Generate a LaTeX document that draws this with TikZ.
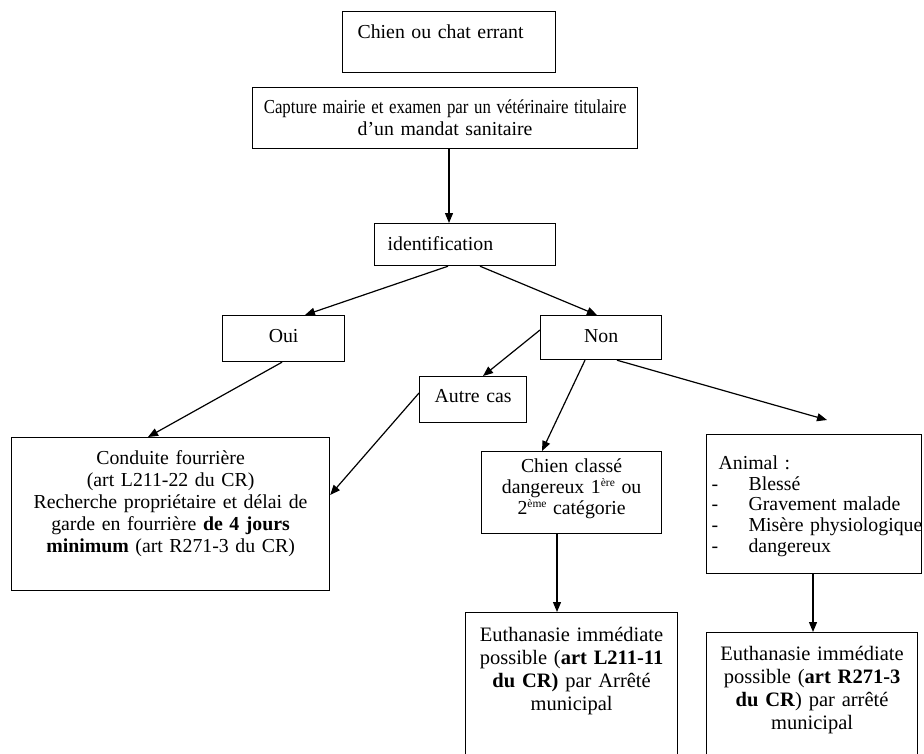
\documentclass[tikz,border=0pt]{standalone}
\usepackage{fontspec}
\usepackage{graphicx}
\setmainfont{Liberation Serif}
\usetikzlibrary{arrows.meta}
\newcommand{\supx}[1]{\raisebox{6.5pt}{\fontsize{11.5}{11.5}\selectfont #1}}
\begin{document}
\begin{tikzpicture}[x=1pt,y=-1pt,
  box/.style={draw, line width=1.2pt, inner ysep=0pt, anchor=north west,
    font=\fontsize{19.8}{22}\selectfont},
  conn/.style={line width=1.2pt, -{Triangle[length=10pt,width=8pt]}}]
\useasboundingbox (0,0) rectangle (924,753);
\clip (0,0) rectangle (924,753);

\node[box, inner xsep=15pt, text width=183pt, align=left, text height=27pt, text depth=34pt]
  (chien) at (342,11) {Chien ou chat errant};
\node[box, inner xsep=5pt, text width=375pt, align=center, text height=26pt, text depth=35pt]
  (capt) at (252,87) {\scalebox{0.85}[1]{Capture mairie et examen par un vétérinaire titulaire}\\d’un mandat sanitaire};
\node[box, inner xsep=13pt, text width=155pt, align=left, text height=27pt, text depth=15pt]
  (ident) at (374,223) {identification};
\node[box, inner xsep=5pt, text width=112pt, align=center, text height=27pt, text depth=19pt]
  (oui) at (222,315) {Oui};
\node[box, inner xsep=5pt, text width=111pt, align=center, text height=27pt, text depth=17pt]
  (non) at (540,315) {Non};
\node[box, inner xsep=5pt, text width=97pt, align=center, text height=26pt, text depth=20pt]
  (autre) at (419,376) {Autre cas};
\node[box, inner xsep=5pt, text width=308pt, align=center, text height=27pt, text depth=126pt]
  (cond) at (11,437) {Conduite fourrière\\(art L211-22 du CR)\\Recherche propriétaire et délai de\\garde en fourrière \textbf{de 4 jours}\\\textbf{minimum} (art R271-3 du CR)};
\node[box, inner xsep=5pt, text width=170pt, align=center, text height=21pt, text depth=61pt,
  font=\fontsize{19.8}{20.8}\selectfont]
  (chc) at (481,451) {Chien classé\\dangereux 1\supx{ère} ou\\2\supx{ème} catégorie};
\node[box, inner xsep=5pt, text width=205pt, align=left, text height=35pt, text depth=104pt,
  font=\fontsize{19.8}{20.6}\selectfont]
  (anim) at (706,434) {\hspace*{7pt}Animal :\\
    \makebox[37pt][l]{-}\mbox{Blessé}\\
    \makebox[37pt][l]{-}\mbox{Gravement malade}\\
    \makebox[37pt][l]{-}\mbox{Misère physiologique}\\
    \makebox[37pt][l]{-}\mbox{dangereux}};
\node[box, inner xsep=5pt, text width=202pt, align=center, text height=29pt, text depth=150pt,
  font=\fontsize{20.5}{23}\selectfont]
  (eut1) at (465,612) {Euthanasie immédiate\\possible (\textbf{art L211-11}\\\textbf{du CR)} par Arrêté\\municipal};
\node[box, inner xsep=5pt, text width=201pt, align=center, text height=28pt, text depth=150pt,
  font=\fontsize{20.5}{23}\selectfont]
  (eut2) at (706,632) {Euthanasie immédiate\\possible (\textbf{art R271-3}\\\textbf{du CR}) par arrêté\\municipal};

\coordinate (animtip) at ([xshift=121pt, yshift=14pt]anim.north west);

\draw[conn] ([xshift=197pt]capt.south west) -- ([xshift=75pt]ident.north west);
\draw[conn] ([xshift=74pt]ident.south west) -- ([xshift=83pt]oui.north west);
\draw[conn] ([xshift=106pt]ident.south west) -- ([xshift=57pt]non.north west);
\draw[conn] ([xshift=60pt]oui.south west) -- ([xshift=137pt]cond.north west);
\draw[conn] ([yshift=-15pt]non.north west) -- ([xshift=64pt]autre.north west);
\draw[conn] ([yshift=-17pt]autre.north west) -- ([yshift=-58pt]cond.north east);
\draw[conn] ([xshift=45pt]non.south west) -- ([xshift=61pt]chc.north west);
\draw[conn] ([xshift=77pt]non.south west) -- (animtip);
\draw[conn] ([xshift=76pt]chc.south west) -- ([xshift=92pt]eut1.north west);
\draw[conn] ([xshift=107pt]anim.south west) -- ([xshift=107pt]eut2.north west);
\end{tikzpicture}
\end{document}
